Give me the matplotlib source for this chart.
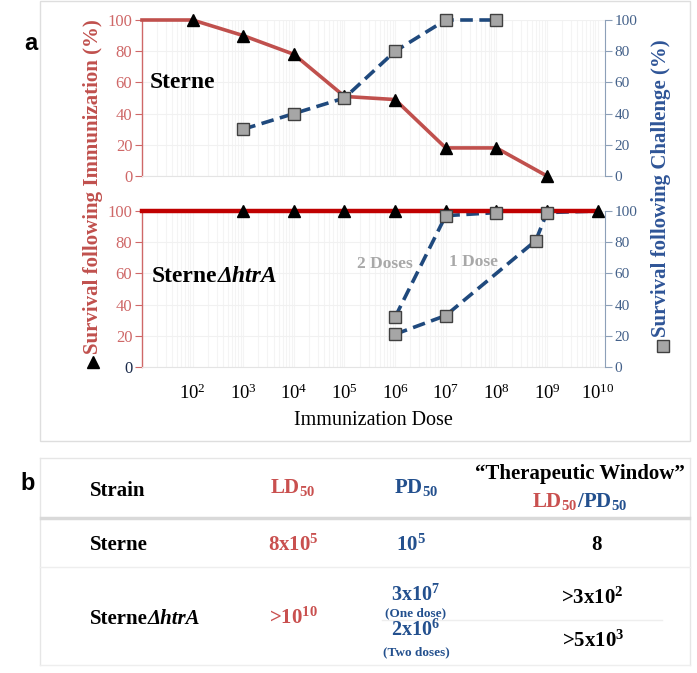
import matplotlib
matplotlib.use('Agg')
import matplotlib.pyplot as plt
from matplotlib.lines import Line2D
from matplotlib.patches import Rectangle
from matplotlib.ticker import FixedLocator, LogLocator, LogFormatterMathtext, NullFormatter

plt.rcParams['font.family'] = ['Liberation Serif', 'DejaVu Serif']
plt.rcParams['mathtext.fontset'] = 'custom'
plt.rcParams['mathtext.rm'] = 'Liberation Serif'
plt.rcParams['mathtext.it'] = 'Liberation Serif:italic'
plt.rcParams['mathtext.bf'] = 'Liberation Serif:bold'

# ---------------- data ----------------
sterne_dose = [1e1, 1e2, 1e3, 1e4, 1e5, 1e6, 1e7, 1e8, 1e9]
sterne_immun = [100, 100, 90, 78, 51, 49, 18, 18, 0]
sterne_chal_dose = [1e3, 1e4, 1e5, 1e6, 1e7, 1e8]
sterne_chal = [30, 40, 50, 80, 100, 100]

htra_dose = [1e1, 1e3, 1e4, 1e5, 1e6, 1e7, 1e8, 1e9, 1e10]
htra_immun = [100, 100, 100, 100, 100, 100, 100, 100, 100]
htra_2dose_dose = [1e6, 1e7, 1e8]
htra_2dose = [32, 97, 99]
htra_1dose_dose = [1e6, 1e7, 6e8, 1e9, 1e10]
htra_1dose = [21, 33, 81, 99, 100]

x_ticks = [1e2, 1e3, 1e4, 1e5, 1e6, 1e7, 1e8, 1e9, 1e10]
y_ticks = [0, 20, 40, 60, 80, 100]

table_header = ['Strain', r'$\mathbf{LD}_{\mathbf{50}}$', r'$\mathbf{PD}_{\mathbf{50}}$']
sterne_row = [r'$\mathbf{8x10^{5}}$', r'$\mathbf{10^{5}}$', '8']
htra_ld50 = r'>$\mathbf{10^{10}}$'
htra_pd50 = [r'$\mathbf{3x10^{7}}$', r'$\mathbf{2x10^{6}}$']
htra_pd50_note = ['(One dose)', '(Two doses)']
htra_window = [r'>$\mathbf{3x10^{2}}$', r'>$\mathbf{5x10^{3}}$']

# ---------------- style ----------------
RED = '#c0504d'
DARKRED = '#c00000'
LRED = '#cf6868'
NAVY = '#1f497d'
BLUE = '#2f5597'
RBLUE = '#44618a'
GRAYSQ = '#a6a6a6'

W, H = 697, 673
fig = plt.figure(figsize=(W / 100, H / 100), dpi=100)


def fx(x):
    return x / W


def fy(y):
    return 1 - y / H


def setup(ax, labels):
    ax.set_xscale('log')
    ax.set_xlim(10, 1.4e10)
    ax.set_ylim(0, 100)
    ax.set_yticks(y_ticks)
    ax.xaxis.set_major_locator(FixedLocator(x_ticks))
    ax.xaxis.set_minor_locator(LogLocator(base=10, subs=range(2, 10), numticks=30))
    ax.xaxis.set_minor_formatter(NullFormatter())
    if labels:
        ax.xaxis.set_major_formatter(LogFormatterMathtext())
    else:
        ax.xaxis.set_major_formatter(NullFormatter())
    ax.tick_params(axis='x', which='both', length=0, labelsize=13.5, pad=12)
    ax.tick_params(axis='y', length=5, color=LRED, labelcolor=LRED, labelsize=12, pad=2)
    ax.grid(True, axis='x', which='both', color='#f4f4f4', lw=0.8)
    ax.grid(True, axis='y', which='major', color='#f1f1f1', lw=0.8)
    ax.set_axisbelow(True)
    for s in ['top', 'right']:
        ax.spines[s].set_visible(False)
    ax.spines['left'].set_color(LRED)
    ax.spines['left'].set_linewidth(1.0)
    ax.spines['bottom'].set_color('#e4e4e4')
    tw = ax.twinx()
    tw.set_ylim(0, 100)
    tw.set_yticks(y_ticks)
    for s in ['top', 'left', 'bottom']:
        tw.spines[s].set_visible(False)
    tw.spines['right'].set_color('#8da0b8')
    tw.tick_params(axis='y', length=5, color='#8da0b8', labelcolor=RBLUE, labelsize=11, pad=2)
    return tw


ax1 = fig.add_axes([fx(142), fy(176), (605 - 142) / W, 156 / H])
ax2 = fig.add_axes([fx(142), fy(367), (605 - 142) / W, 156 / H])
setup(ax1, False)
setup(ax2, True)
# bottom-left zero label is dark
ax2.get_yticklabels()[0].set_color('#1a2a4a')

# top panel: Sterne
ax1.plot(sterne_dose, sterne_immun, color=RED, lw=2.6, marker='^', markevery=list(range(1, len(sterne_dose))),
         ms=9, mfc='black', mec='black', zorder=3, clip_on=False)
ax1.plot(sterne_chal_dose, sterne_chal, color=NAVY, lw=2.6, dashes=(3.5, 1.8), marker='s', ms=9,
         mfc=GRAYSQ, mec='#404040', mew=1.0, zorder=4, clip_on=False)

# bottom panel: Sterne htrA
ax2.plot(htra_2dose_dose, htra_2dose, color=NAVY, lw=2.6, dashes=(3.5, 1.8), zorder=2, clip_on=False)
ax2.plot(htra_1dose_dose, htra_1dose, color=NAVY, lw=2.6, dashes=(3.5, 1.8), zorder=2, clip_on=False)
ax2.plot(htra_dose, htra_immun, color=DARKRED, lw=3.2, marker='^', markevery=list(range(1, len(htra_dose))),
         ms=9, mfc='black', mec='black', zorder=3, clip_on=False)
ax2.plot(htra_2dose_dose, htra_2dose, ls='none', marker='s', ms=9, mfc=GRAYSQ, mec='#404040', mew=1.0,
         zorder=4, clip_on=False)
ax2.plot(htra_1dose_dose[:-1], htra_1dose[:-1], ls='none', marker='s', ms=9, mfc=GRAYSQ, mec='#404040',
         mew=1.0, zorder=4, clip_on=False)

ax2.text(10 ** 5.8, 66, '2 Doses', ha='center', va='center', fontsize=12.5, fontweight='bold', color='#a8a8a8')
ax2.text(10 ** 7.55, 67, '1 Dose', ha='center', va='center', fontsize=12.5, fontweight='bold', color='#a8a8a8')

ax2.set_xlabel('Immunization Dose', fontsize=14.5, labelpad=6)

# axis titles with legend symbols
fig.text(fx(93), fy(187), 'Survival following Immunization (%)', rotation=90, ha='center', va='center',
         fontsize=15, fontweight='bold', color=RED)
fig.add_artist(Line2D([fx(93)], [fy(362)], marker='^', ms=8, color='black', transform=fig.transFigure))
fig.text(fx(661), fy(188), 'Survival following Challenge (%)', rotation=90, ha='center', va='center',
         fontsize=15, fontweight='bold', color=BLUE)
fig.add_artist(Line2D([fx(663)], [fy(346)], marker='s', ms=8, mfc=GRAYSQ, mec='#404040',
                      transform=fig.transFigure))

fig.canvas.draw()
renderer = fig.canvas.get_renderer()


def strain_text(x, y, size, va='center'):
    t = fig.text(fx(x), fy(y), 'Sterne', ha='left', va=va, fontsize=size, fontweight='bold')
    bb = t.get_window_extent(renderer=renderer)
    fig.text(bb.x1 / fig.bbox.width, fy(y), '\u0394htrA', ha='left', va=va, fontsize=size,
             fontweight='bold', style='italic')


fig.text(fx(150), fy(82), 'Sterne', ha='left', va='center', fontsize=17, fontweight='bold')
strain_text(152, 276, 17)

# panel letters
fig.text(fx(24), fy(43), 'a', ha='left', va='center', fontsize=17, fontweight='bold', family='Liberation Sans')
fig.text(fx(20), fy(484), 'b', ha='left', va='center', fontsize=17, fontweight='bold', family='Liberation Sans')

# panel boxes
fig.add_artist(Rectangle((fx(40), fy(441)), 650 / W, 440 / H, fill=False, ec='#dedede', lw=1,
                         transform=fig.transFigure))
fig.add_artist(Line2D([fx(40), fx(690)], [fy(458), fy(458)], color='#e6e6e6', lw=1, transform=fig.transFigure))
fig.add_artist(Line2D([fx(40), fx(40)], [fy(458), fy(665)], color='#e6e6e6', lw=1, transform=fig.transFigure))
fig.add_artist(Line2D([fx(690), fx(690)], [fy(458), fy(665)], color='#e6e6e6', lw=1, transform=fig.transFigure))
fig.add_artist(Line2D([fx(41), fx(689)], [fy(518), fy(518)], color='#d9d9d9', lw=2.5, transform=fig.transFigure))
fig.add_artist(Line2D([fx(40), fx(690)], [fy(567), fy(567)], color='#eeeeee', lw=1, transform=fig.transFigure))
fig.add_artist(Line2D([fx(382), fx(662)], [fy(620), fy(620)], color='#eeeeee', lw=1, transform=fig.transFigure))
fig.add_artist(Line2D([fx(40), fx(690)], [fy(665), fy(665)], color='#eeeeee', lw=1, transform=fig.transFigure))

# table text (baseline positions)
TS = 15
TRED = '#c9504f'
TBLUE = '#23508e'
B = 'baseline'
fig.text(fx(90), fy(495.5), table_header[0], ha='left', va=B, fontsize=TS, fontweight='bold')
fig.text(fx(293), fy(493.5), table_header[1], ha='center', va=B, fontsize=TS, color=TRED)
fig.text(fx(416), fy(493.5), table_header[2], ha='center', va=B, fontsize=TS, color=TBLUE)
fig.text(fx(580), fy(479), '\u201cTherapeutic Window\u201d', ha='center', va=B, fontsize=TS,
         fontweight='bold')
fig.text(fx(577), fy(507), table_header[1], ha='right', va=B, fontsize=TS, color=TRED)
fig.text(fx(577), fy(507), r'$\mathbf{/PD}_{\mathbf{50}}$', ha='left', va=B, fontsize=TS, color=TBLUE)

fig.text(fx(90), fy(550.5), 'Sterne', ha='left', va=B, fontsize=TS, fontweight='bold')
fig.text(fx(293), fy(550.5), sterne_row[0], ha='center', va=B, fontsize=TS, color=TRED)
fig.text(fx(411), fy(550.5), sterne_row[1], ha='center', va=B, fontsize=TS, color=TBLUE)
fig.text(fx(596), fy(550.5), sterne_row[2], ha='center', va=B, fontsize=TS, fontweight='bold')

strain_text(90, 624, TS, va=B)
fig.text(fx(293), fy(624), htra_ld50, ha='center', va=B, fontsize=TS, color=TRED, fontweight='bold')
fig.text(fx(416), fy(600.5), htra_pd50[0], ha='center', va=B, fontsize=14.5, color=TBLUE)
fig.text(fx(416), fy(616.5), htra_pd50_note[0], ha='center', va=B, fontsize=9.5, color=TBLUE,
         fontweight='bold')
fig.text(fx(416), fy(636), htra_pd50[1], ha='center', va=B, fontsize=14.5, color=TBLUE)
fig.text(fx(416), fy(655.5), htra_pd50_note[1], ha='center', va=B, fontsize=9.5, color=TBLUE,
         fontweight='bold')
fig.text(fx(592), fy(604), htra_window[0], ha='center', va=B, fontsize=TS, fontweight='bold')
fig.text(fx(593), fy(646.5), htra_window[1], ha='center', va=B, fontsize=TS, fontweight='bold')

fig.savefig('out.png', dpi=100)
